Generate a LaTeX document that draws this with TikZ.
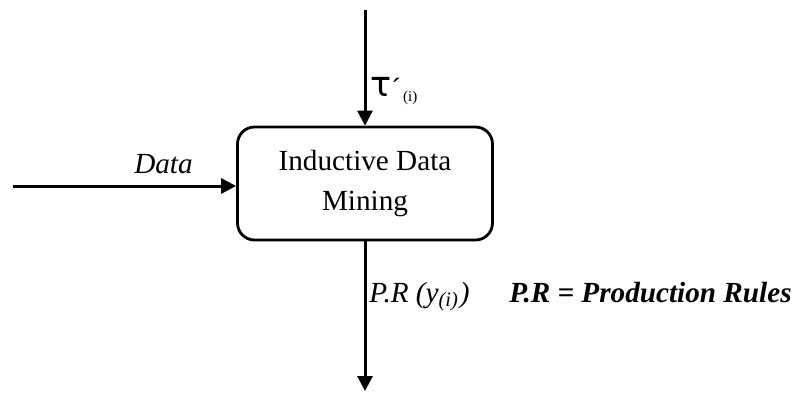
\documentclass[tikz,border=0pt]{standalone}
\usepackage{fontspec}
\setmainfont{Liberation Serif}
\newfontfamily\greekfont{DejaVu Sans}
\usetikzlibrary{arrows.meta}

\begin{document}
\begin{tikzpicture}[x=0.5pt,y=-0.5pt,
    every node/.style={font=\fontsize{14.6}{20}\selectfont},
    flow/.style={line width=1.5pt,-{Triangle[length=7.5pt,width=7.5pt]}},
    procbox/.style={draw,line width=1.4pt,rounded corners=8.5pt,
      minimum width=127.5pt,minimum height=56.5pt,align=center,inner sep=0pt},
    lbl/.style={inner sep=0pt}]
  \useasboundingbox[fill=white] (0,0) rectangle (797,392);

  % process block
  \node[procbox] (box) at (365,183.5) {Inductive Data\\[-0.3pt]Mining};

  % free ends of the flows
  \coordinate (tin)  at (365,10);
  \coordinate (din)  at (13,186);
  \coordinate (pout) at (365,391);

  % flows
  \draw[flow] (tin) -- (box.north);
  \draw[flow] (din) -- (din -| box.west);
  \draw[flow] (box.south) -- (pout);

  % labels
  \node[lbl,anchor=base west] (tau) at (370,96)
    {{\greekfont\fontsize{17.5}{17.5}\selectfont τ}\raisebox{-1pt}{´}\hspace{1pt}\raisebox{-2.5pt}{\fontsize{7.5}{8}\selectfont (i)}};
  \node[lbl,anchor=base] (data) at (163.5,173) {\itshape Data};
  \node[lbl,anchor=base west] (pr) at (369,302) {\itshape P.R (y\textsubscript{(i)}\kern0.5pt)};
  \node[lbl,anchor=base east] (legend) at (792,302) {\bfseries\itshape P.R = Production Rules};
\end{tikzpicture}
\end{document}
